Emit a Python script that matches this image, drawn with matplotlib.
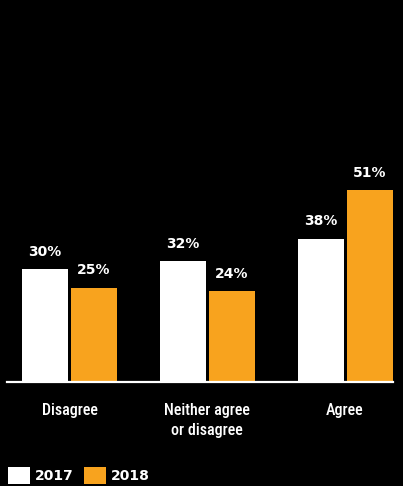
import matplotlib.pyplot as plt
from matplotlib.patches import Patch

categories = ['Disagree', 'Neither agree\nor disagree', 'Agree']
years = ['2017', '2018']
values_2017 = [30, 32, 38]
values_2018 = [25, 24, 51]

WHITE = '#FFFFFF'
ORANGE = '#F8A31E'
BOLD = {'family': 'DejaVu Sans', 'weight': 'bold'}

fig = plt.figure(figsize=(4.03, 4.86), dpi=100, facecolor='black')
ax = fig.add_axes([7 / 403, 1 - 381.7 / 486, 386 / 403, 381.7 / 486])
ax.set_facecolor('black')

x = list(range(len(categories)))
width = 0.334
off = 0.178
b17 = ax.bar([i - off for i in x], values_2017, width, color=WHITE)
b18 = ax.bar([i + off for i in x], values_2018, width, color=ORANGE)

# percentage labels above each bar
for bars, vals in ((b17, values_2017), (b18, values_2018)):
    for rect, v in zip(bars, vals):
        ax.annotate(f'{v}%', (rect.get_x() + rect.get_width() / 2, v),
                    xytext=(0, 12.5), textcoords='offset points',
                    ha='center', va='center', color='white',
                    fontsize=10, **BOLD)

ax.set_xlim(-0.454, 2.348)
ax.set_ylim(0, 381.7 / 3.76)
ax.set_xticks(x)
ax.set_xticklabels(categories, color='white', fontsize=11.5,
                   family=['Roboto Condensed', 'DejaVu Sans'],
                   fontweight='medium', linespacing=1.45)
ax.tick_params(axis='x', length=0, pad=15)
ax.set_yticks([])
for s in ('top', 'left', 'right'):
    ax.spines[s].set_visible(False)
ax.spines['bottom'].set_color('white')
ax.spines['bottom'].set_linewidth(1.6)

handles = [Patch(facecolor=WHITE), Patch(facecolor=ORANGE)]
leg = fig.legend(handles, years, loc='lower left', bbox_to_anchor=(8 / 403, 2 / 486),
                 ncol=2, frameon=False, handlelength=1.6, handleheight=1.55,
                 handletextpad=0.35, columnspacing=0.75, borderpad=0,
                 borderaxespad=0, prop={**BOLD, 'size': 10})
for t in leg.get_texts():
    t.set_color('white')

fig.savefig('out.png', dpi=100, facecolor='black')
